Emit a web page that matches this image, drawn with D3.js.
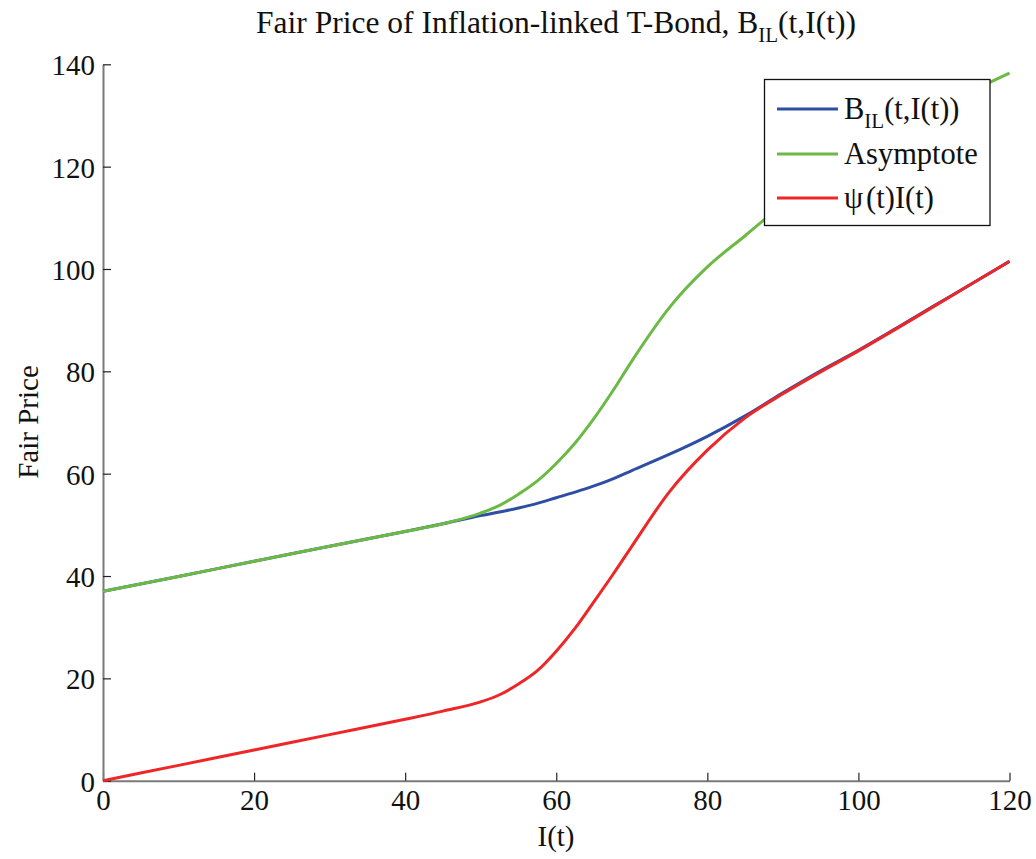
<!DOCTYPE html>
<html>
<head>
<meta charset="utf-8">
<script src="https://cdn.jsdelivr.net/npm/d3@7"></script>
<style>
  body { margin: 0; background: #fff; }
  svg text { font-family: "Liberation Serif", "DejaVu Serif", serif; fill: #111; }
</style>
</head>
<body>
<svg id="chart" width="1036" height="859"></svg>
<script>
// Inflation index values I(t)
const inflation = [0, 10, 20, 30, 40, 45, 50, 52.5, 55, 57.5, 60, 62.5, 65, 67.5, 70, 75, 80, 85, 90, 95, 100, 105, 110, 115, 120];

// Fair price of the bond B_IL(t, I(t))
const bondPrice = [37.0, 39.9, 42.9, 45.8, 48.7, 50.2, 51.8, 52.5, 53.3, 54.2, 55.3, 56.4, 57.6, 59.0, 60.6, 63.8, 67.3, 71.3, 75.8, 80.1, 84.1, 88.4, 92.8, 97.1, 101.5];

// Asymptote
const asymptote = [37.0, 39.9, 42.9, 45.8, 48.7, 50.2, 52.3, 53.8, 56.0, 58.6, 62.0, 66.0, 70.8, 76.2, 82.0, 92.5, 100.4, 106.5, 112.6, 118.0, 122.8, 127.2, 131.1, 134.8, 138.3];

// psi(t) * I(t)
const psiI = [0, 3.0, 6.0, 9.0, 12.0, 13.6, 15.4, 16.8, 18.9, 21.5, 25.3, 29.8, 35.0, 40.3, 45.8, 56.5, 64.6, 70.9, 75.6, 79.9, 84.0, 88.3, 92.7, 97.1, 101.5];

const xTicks = [0, 20, 40, 60, 80, 100, 120];
const yTicks = [0, 20, 40, 60, 80, 100, 120, 140];

const series = [
  { name: 'bond', values: bondPrice, color: '#2c4ea3' },
  { name: 'asym', values: asymptote, color: '#6cb945' },
  { name: 'psi', values: psiI, color: '#ee2628' }
];

const svg = d3.select('#chart');

const x = d3.scaleLinear().domain([0, 120]).range([103, 1009.5]);
const y = d3.scaleLinear().domain([0, 140]).range([780.7, 64.3]);

// Axes (inward ticks, MATLAB style)
const xAxis = svg.append('g')
  .attr('transform', `translate(0, ${y(0)})`)
  .call(d3.axisBottom(x).tickValues(xTicks).tickSizeInner(-8).tickSizeOuter(0).tickPadding(8));

const yAxis = svg.append('g')
  .attr('transform', `translate(${x(0)}, 0)`)
  .call(d3.axisLeft(y).tickValues(yTicks).tickSizeInner(-8).tickSizeOuter(0).tickPadding(8));

[xAxis, yAxis].forEach(g => {
  g.select('.domain').attr('stroke', '#7a7a7a').attr('stroke-width', 2);
  g.selectAll('.tick line').attr('stroke', '#222').attr('stroke-width', 1.2);
  g.selectAll('.tick text')
    .style('font-family', '"Liberation Serif", serif')
    .style('font-size', '29px')
    .attr('fill', '#111');
});
xAxis.selectAll('.tick text').attr('dy', '0.75em');
yAxis.selectAll('.tick text').attr('dy', '0.36em');

// Lines
const line = d3.line()
  .x((d, i) => x(inflation[i]))
  .y(d => y(d))
  .curve(d3.curveMonotoneX);

svg.append('g')
  .selectAll('path')
  .data(series)
  .enter()
  .append('path')
  .attr('d', d => line(d.values))
  .attr('fill', 'none')
  .attr('stroke', d => d.color)
  .attr('stroke-width', 3);

// Title
const title = svg.append('text')
  .attr('x', 556)
  .attr('y', 33)
  .attr('text-anchor', 'middle')
  .style('font-size', '31.5px');
title.append('tspan').text('Fair Price of Inflation-linked T-Bond, B');
title.append('tspan').attr('dy', 9).style('font-size', '21px').text('IL');
title.append('tspan').attr('dy', -9).text('(t,I(t))');

// Axis labels
svg.append('text')
  .attr('x', 556)
  .attr('y', 846)
  .attr('text-anchor', 'middle')
  .style('font-size', '29px')
  .text('I(t)');

svg.append('text')
  .attr('transform', 'translate(38, 422) rotate(-90)')
  .attr('text-anchor', 'middle')
  .style('font-size', '29px')
  .text('Fair Price');

// Legend
const legend = svg.append('g');
legend.append('rect')
  .attr('x', 764.5)
  .attr('y', 79.5)
  .attr('width', 225.5)
  .attr('height', 146)
  .attr('fill', '#fff')
  .attr('stroke', '#111')
  .attr('stroke-width', 1.3);

const legendRows = [
  { color: series[0].color, y: 109 },
  { color: series[1].color, y: 154 },
  { color: series[2].color, y: 198 }
];

legend.selectAll('line')
  .data(legendRows)
  .enter()
  .append('line')
  .attr('x1', 777)
  .attr('x2', 838)
  .attr('y1', d => d.y)
  .attr('y2', d => d.y)
  .attr('stroke', d => d.color)
  .attr('stroke-width', 3);

const t1 = legend.append('text').attr('x', 844).attr('y', 119).style('font-size', '30.5px');
t1.append('tspan').text('B');
t1.append('tspan').attr('dy', 9).style('font-size', '21px').text('IL');
t1.append('tspan').attr('dy', -9).text('(t,I(t))');

legend.append('text').attr('x', 844).attr('y', 164).style('font-size', '30.5px').text('Asymptote');

const t3 = legend.append('text').attr('x', 844).attr('y', 208).style('font-size', '30.5px');
t3.append('tspan').text('\u03c8');
t3.append('tspan').attr('dx', 3).text('(t)I(t)');
</script>
</body>
</html>
